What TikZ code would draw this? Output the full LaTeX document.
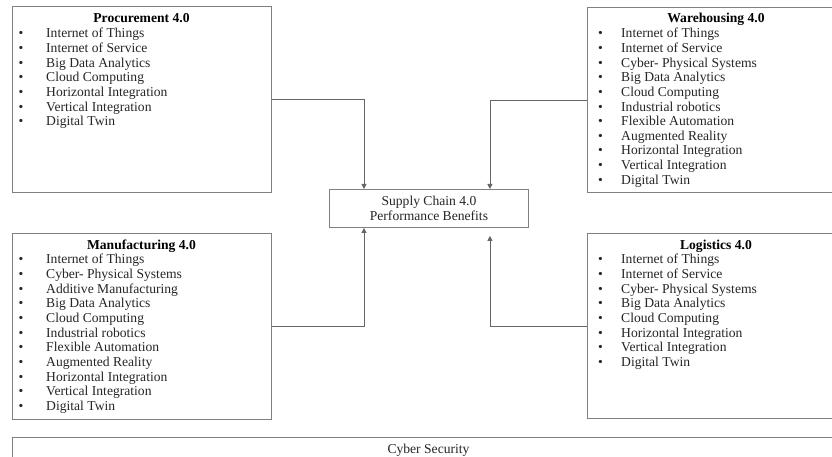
\documentclass[tikz,border=0pt]{standalone}
\usepackage{fontspec}
\setmainfont{Liberation Serif}
\usetikzlibrary{arrows.meta,calc}
\newcommand{\itemlist}[5]{%
  \foreach \t [count=\i] in {#5} {%
    \node[bul, anchor=base] (#1b\i) at (#2, {#4+(\i-1)*14.65}) {•};
    \node[itm, anchor=base west] (#1t\i) at (#3, {#4+(\i-1)*14.65}) {\t};
  }}
\tikzset{
  box/.style={draw=black!50, line width=0.9pt, rectangle, inner sep=0pt, anchor=north west},
  bul/.style={inner sep=0pt, font=\fontsize{13.6}{14.65}\selectfont, text=black!85},
  itm/.style={inner sep=0pt, font=\fontsize{13.6}{14.65}\selectfont, text=black!85},
  ttl/.style={inner sep=0pt, font=\fontsize{13.6}{14.65}\selectfont\bfseries, text=black, anchor=base},
  conn/.style={draw=black!60, line width=0.8pt, -{Triangle[width=5pt,length=5pt]}}
}
\begin{document}
\begin{tikzpicture}[x=1pt,y=-1pt]
\clip (0,0) rectangle (832,457);
\fill[white] (0,0) rectangle (832,457);
% boxes
\node[box, minimum width=259pt, minimum height=186pt] (proc) at (12,6) {};
\node[box, minimum width=258pt, minimum height=185pt] (ware) at (587,7) {};
\node[box, minimum width=259pt, minimum height=186pt] (manu) at (12,233) {};
\node[box, minimum width=258pt, minimum height=185pt] (logi) at (587,233) {};
\node[box, minimum width=833pt, minimum height=40pt] (cyber) at (12,437) {};
\node[box, minimum width=199pt, minimum height=38pt, align=center,
      font=\fontsize{13.6}{15.3}\selectfont, text=black!85] (scm) at (329,189)
      {Supply Chain 4.0\\Performance Benefits};
% titles
\node[ttl] (procT) at (141.5,23) {Procurement 4.0};
\node[ttl] (wareT) at (716,23) {Warehousing 4.0};
\node[ttl] (manuT) at (141.5,249.5) {Manufacturing 4.0};
\node[ttl] (logiT) at (716,249.5) {Logistics 4.0};
\node[itm, anchor=base] (cyberT) at (428.5,453.5) {Cyber Security};
% lists
\itemlist{p}{21}{46}{37.8}{Internet of Things,Internet of Service,Big Data Analytics,Cloud Computing,Horizontal Integration,Vertical Integration,Digital Twin}
\itemlist{w}{600.5}{621}{37.8}{Internet of Things,Internet of Service,Cyber- Physical Systems,Big Data Analytics,Cloud Computing,Industrial robotics,Flexible Automation,Augmented Reality,Horizontal Integration,Vertical Integration,Digital Twin}
\itemlist{m}{21}{46}{263.8}{Internet of Things,Cyber- Physical Systems,Additive Manufacturing,Big Data Analytics,Cloud Computing,Industrial robotics,Flexible Automation,Augmented Reality,Horizontal Integration,Vertical Integration,Digital Twin}
\itemlist{l}{600.5}{621}{263.8}{Internet of Things,Internet of Service,Cyber- Physical Systems,Big Data Analytics,Cloud Computing,Horizontal Integration,Vertical Integration,Digital Twin}
% connectors
\draw[conn] (proc.east) -| ([xshift=35pt]scm.north west);
\draw[conn] (ware.west) -| ([xshift=-39pt]scm.north east);
\draw[conn] (manu.east) -| ([xshift=35pt]scm.south west);
\draw[conn] (logi.west) -| ([xshift=-39pt,yshift=-8pt]scm.south east);
\end{tikzpicture}
\end{document}
